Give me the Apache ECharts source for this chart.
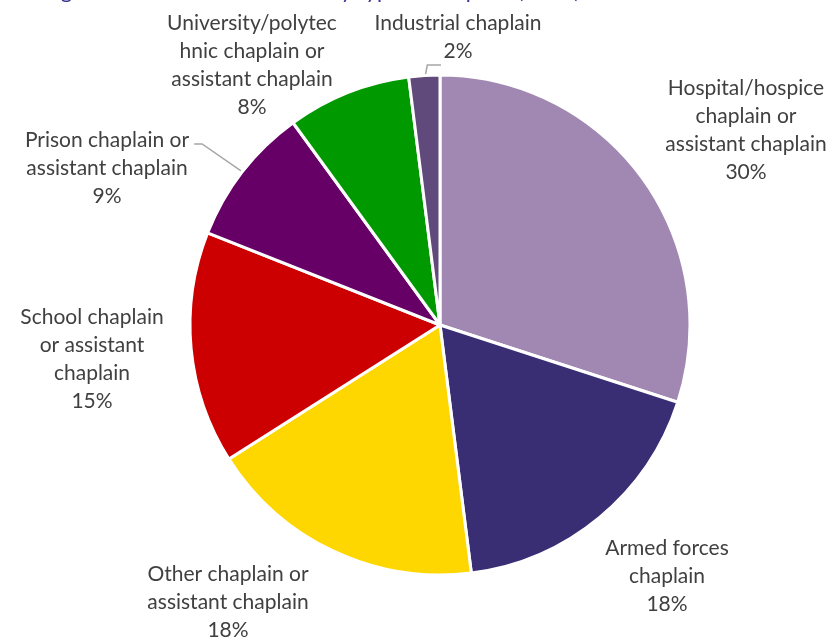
<!DOCTYPE html>
<html>
<head>
<meta charset="utf-8">
<script src="https://cdn.jsdelivr.net/npm/echarts@6/dist/echarts.min.js"></script>
<style>
  html, body { margin: 0; padding: 0; background: #ffffff; }
  #chart { width: 832px; height: 640px; }
</style>
</head>
<body>
<div id="chart"></div>
<script>
// Chaplaincy roles, share of total (%)
const categories = [
  'Hospital/hospice\nchaplain or\nassistant chaplain',
  'Armed forces\nchaplain',
  'Other chaplain or\nassistant chaplain',
  'School chaplain\nor assistant\nchaplain',
  'Prison chaplain or\nassistant chaplain',
  'University/polytec\nhnic chaplain or\nassistant chaplain',
  'Industrial chaplain'
];
const shares = [30, 18, 18, 15, 9, 8, 2];
const sliceColors = ['#A088B3', '#392E74', '#FFD700', '#CC0000', '#660066', '#009900', '#604A7B'];
// leader style per category: none, from the right end of the first line, or from under the block
const leaderKind = ['none', 'none', 'none', 'none', 'right', 'none', 'below'];

// label block centres (px)
const labelSpots = [
  [746, 130], [667, 576], [228, 602], [92, 359], [107, 168], [252, 65], [458, 37]
];

const LABEL_FONT = 21;
const LABEL_LINE_H = 28;

const chart = echarts.init(document.getElementById('chart'), null, { renderer: 'canvas' });

chart.setOption({
  animation: false,
  title: {
    text: 'Figure 28: Licensed ministers by type of chaplain (2019)',
    left: 38,
    top: -25,
    textStyle: { color: '#3C3595', fontFamily: 'Lato', fontSize: 22, fontWeight: 'normal' }
  },
  series: [{
    type: 'pie',
    center: [440, 325],
    radius: 250,
    startAngle: 90,
    clockwise: true,
    avoidLabelOverlap: false,
    itemStyle: { borderColor: '#ffffff', borderWidth: 3 },
    label: {
      show: true,
      formatter: '{b}\n{c}%',
      color: '#404040',
      fontFamily: 'Lato',
      fontSize: LABEL_FONT,
      lineHeight: LABEL_LINE_H,
      align: 'center'
    },
    labelLine: { show: false, lineStyle: { color: '#A6A6A6', width: 1.5 } },
    labelLayout: function (p) {
      const s = labelSpots[p.dataIndex];
      const out = { x: s[0], y: s[1], align: 'center', verticalAlign: 'middle' };
      const kind = leaderKind[p.dataIndex];
      const pts = p.labelLinePoints;
      if (kind !== 'none' && pts && pts.length) {
        const start = pts[0];
        const w = p.labelRect.width;
        const h = p.labelRect.height;
        if (kind === 'right') {
          const endX = s[0] + w / 2 + 5;
          const endY = s[1] - h / 2 + LABEL_LINE_H / 2 + 4;
          out.labelLinePoints = [[start[0], start[1]], [endX + 8, endY], [endX, endY]];
        } else {
          const y = s[1] + h / 2;
          out.labelLinePoints = [[start[0] + 1, start[1]], [start[0] + 3, y], [s[0] - 17, y]];
        }
      }
      return out;
    },
    data: categories.map(function (name, i) {
      return {
        name: name,
        value: shares[i],
        itemStyle: { color: sliceColors[i] },
        labelLine: { show: leaderKind[i] !== 'none', length: 10, length2: 10 }
      };
    })
  }]
});
</script>
</body>
</html>
